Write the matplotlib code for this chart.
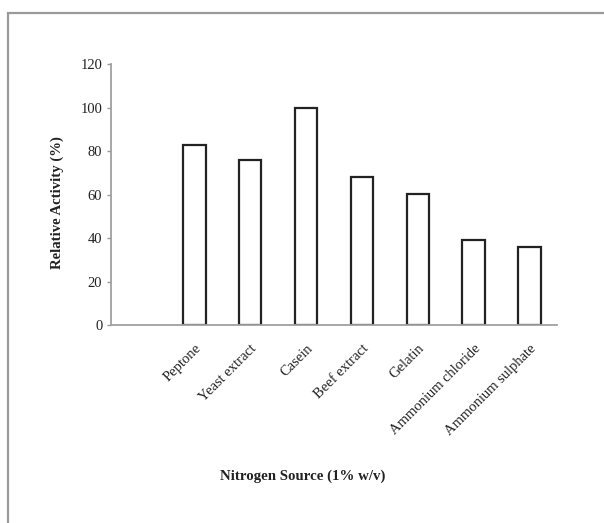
import matplotlib
matplotlib.use("Agg")
import matplotlib.pyplot as plt
from matplotlib.patches import Rectangle

categories = ["", "Peptone", "Yeast extract", "Casein", "Beef extract", "Gelatin",
              "Ammonium chloride", "Ammonium sulphate"]
values = [0, 82.7, 75.8, 100, 68.4, 60.2, 39.2, 35.8]
yticks = [0, 20, 40, 60, 80, 100, 120]

plt.rcParams['font.family'] = ['Liberation Serif', 'DejaVu Serif']

fig = plt.figure(figsize=(6.04, 5.23), dpi=100)
ax = fig.add_axes([110.7/604, 1-325.3/523, (557.3-110.7)/604, (325.3-64.3)/523])

x = list(range(len(categories)))
for xi, c, v in zip(x, categories, values):
    if c:
        ax.bar(xi, v, width=0.4, facecolor='white', edgecolor='#222222', linewidth=1.6)

ax.set_xlim(-0.5, len(categories) - 0.5)
ax.set_ylim(0, 120)
ax.set_yticks(yticks)
ax.set_yticklabels([str(t) for t in yticks], fontsize=10.5, color='#222222')
ax.set_xticks(x[1:])
ax.set_xticklabels(categories[1:], rotation=45, ha='right', va='top',
                   rotation_mode='anchor', fontsize=10.5, color='#222222')
ax.tick_params(axis='x', length=0, pad=12)
ax.tick_params(axis='y', length=3, width=1, color='#999999', pad=3)

for s in ['top', 'right']:
    ax.spines[s].set_visible(False)
for s in ['left', 'bottom']:
    ax.spines[s].set_color('#a0a0a0')
    ax.spines[s].set_linewidth(1.3)

fig.text(57/604, 1-203/523, "Relative Activity (%)", rotation=90, ha='center', va='center',
         fontsize=10.6, fontweight='bold', color='#222222')
fig.text(302.5/604, 1-476.7/523, "Nitrogen Source (1% w/v)", ha='center', va='center',
         fontsize=10.7, fontweight='bold', color='#222222')

fig.patches.append(Rectangle((7.7/604, -0.1), 1.2, 1.1 - 13.3/523,
                             transform=fig.transFigure, fill=False,
                             edgecolor='#9a9a9a', linewidth=1.6))

fig.savefig("out.png", dpi=100)
